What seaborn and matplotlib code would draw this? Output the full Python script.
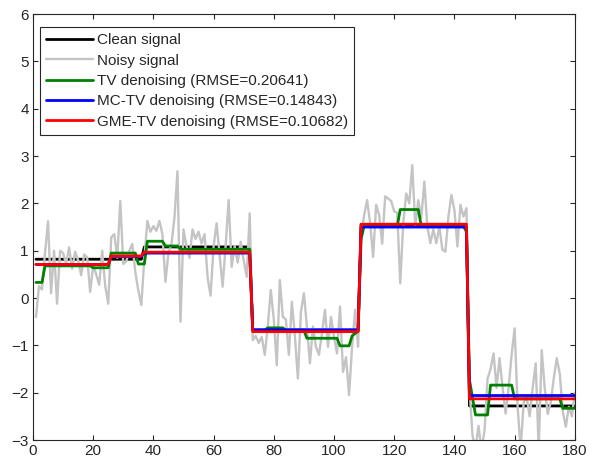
import numpy as np
import pandas as pd
import matplotlib
matplotlib.use("Agg")
import matplotlib.pyplot as plt
import seaborn as sns

# sample positions 1..180
n_samples = 180

# clean signal: piecewise constant levels and run lengths
clean_levels = [0.82, 1.08, -0.68, 1.55, -2.28]
clean_runs = [36, 36, 36, 36, 36]

noisy = [
    -0.40, 0.25, 0.18, 0.95, 1.62, 0.10, 1.00, -0.12, 1.00, 0.95,
    0.72, 1.07, 0.62, 0.98, 0.80, 0.48, 0.92, 0.86, 0.13, 0.70,
    0.50, 0.28, 1.00, 0.25, -0.12, 1.28, 1.35, 0.85, 2.05, 0.72,
    0.78, 1.00, 1.14, 0.55, 0.16, -0.15, 0.85, 1.63, 1.40, 1.52,
    1.42, 1.63, 1.35, 0.34, 0.95, 1.14, 1.70, 2.68, -0.50, 1.45,
    1.10, 0.85, 1.45, 1.25, 1.40, 1.15, 1.35, 0.44, 0.05, 1.09,
    1.58, 0.90, 0.24, 1.10, 2.07, 0.66, 1.10, 0.75, 1.19, 0.80,
    0.45, 1.79, -0.89, -0.80, -0.95, -0.82, -1.20, -0.60, 0.17, -0.45,
    -1.42, 0.38, -0.40, -0.45, -1.20, -0.08, -0.80, -1.70, -0.30, 0.10,
    -0.60, -1.38, -0.60, -1.03, -1.20, -0.75, -0.25, -1.03, -0.40, -0.82,
    -1.17, -0.18, -1.56, -1.25, -2.05, -1.03, -0.25, -1.03, 1.30, 1.75,
    2.07, 1.58, 0.87, 1.97, 1.75, 1.15, 2.15, 2.10, 2.05, 1.83,
    1.80, 0.31, 1.58, 2.21, 2.00, 2.81, 1.51, 2.07, 1.70, 2.46,
    1.51, 1.16, 1.45, 1.16, 1.51, 1.02, 0.98, 1.72, 2.18, 1.86,
    1.09, 1.97, 1.72, 1.90, -1.90, -2.90, -3.20, -2.70, -3.20, -2.80,
    -1.70, -1.50, -1.17, -1.90, -1.27, -1.90, -2.44, -1.90, -1.20, -0.64,
    -2.30, -3.20, -2.20, -2.10, -2.50, -1.90, -1.38, -3.20, -1.10, -1.90,
    -2.45, -2.20, -1.70, -1.27, -1.60, -2.40, -2.72, -2.30, -2.50, -2.00,
]

# TV denoising (green)
tv_levels = [0.33, 0.68, 0.64, 0.95, 0.72, 1.20, 1.10, 1.03,
             -0.68, -0.63, -0.68, -0.85, -1.01, -0.80, -0.75, -0.70,
             1.25, 1.52, 1.87, 1.52, 1.40,
             -1.73, -2.10, -2.47, -1.84, -2.13, -2.33]
tv_runs = [3, 16, 6, 9, 3, 6, 5, 24,
           5, 6, 7, 11, 4, 1, 1, 1,
           1, 12, 7, 15, 1,
           1, 1, 5, 8, 16, 5]

# MC-TV denoising (blue)
mc_levels = [0.71, 0.88, 0.95, -0.67, 1.50, -2.06]
mc_runs = [25, 11, 36, 36, 36, 36]

# GME-TV denoising (red)
gme_levels = [0.71, 0.89, 0.97, -0.71, 1.56, -2.13]
gme_runs = [25, 11, 36, 36, 36, 36]

labels = ["Clean signal", "Noisy signal",
          "TV denoising (RMSE=0.20641)",
          "MC-TV denoising (RMSE=0.14843)",
          "GME-TV denoising (RMSE=0.10682)"]
colors = ["#000000", "#C4C4C4", "#008000", "#0000FF", "#FF0000"]

sns.set_theme(style="white")
plt.rcParams["font.family"] = ["Liberation Sans", "DejaVu Sans"]

x = np.arange(1, n_samples + 1)
df = pd.DataFrame({
    "n": x,
    "clean": np.repeat(clean_levels, clean_runs),
    "noisy": noisy,
    "tv": np.repeat(tv_levels, tv_runs),
    "mc": np.repeat(mc_levels, mc_runs),
    "gme": np.repeat(gme_levels, gme_runs),
})

fig = plt.figure(figsize=(5.92, 4.70), dpi=100)
ax = fig.add_axes([0.0557, 0.0638, 0.9153, 0.9062])

widths = [2.0, 1.7, 2.0, 2.0, 2.0]
for col, lab, c, w in zip(["clean", "noisy", "tv", "mc", "gme"], labels, colors, widths):
    sns.lineplot(data=df, x="n", y=col, color=c, linewidth=w, label=lab,
                 ax=ax, estimator=None, sort=False)

ax.set_xlim(0, 180)
ax.set_ylim(-3, 6)
ax.set_xticks(range(0, 181, 20))
ax.set_yticks(range(-3, 7))
ax.set_xlabel("")
ax.set_ylabel("")

for s in ax.spines.values():
    s.set_color("#262626")
    s.set_linewidth(0.8)
ax.tick_params(direction="in", length=3.5, width=0.8, color="#262626",
               labelcolor="#262626", labelsize=11, top=True, right=True,
               bottom=True, left=True, pad=3)

leg = ax.legend(loc="upper left", bbox_to_anchor=(0.013, 0.969),
                borderaxespad=0, fancybox=False, framealpha=1,
                edgecolor="#262626", fontsize=11, handlelength=3.1,
                handletextpad=0.25, labelspacing=0.42, borderpad=0.38)
leg.get_frame().set_linewidth(0.8)

fig.savefig("out.png", dpi=100)
